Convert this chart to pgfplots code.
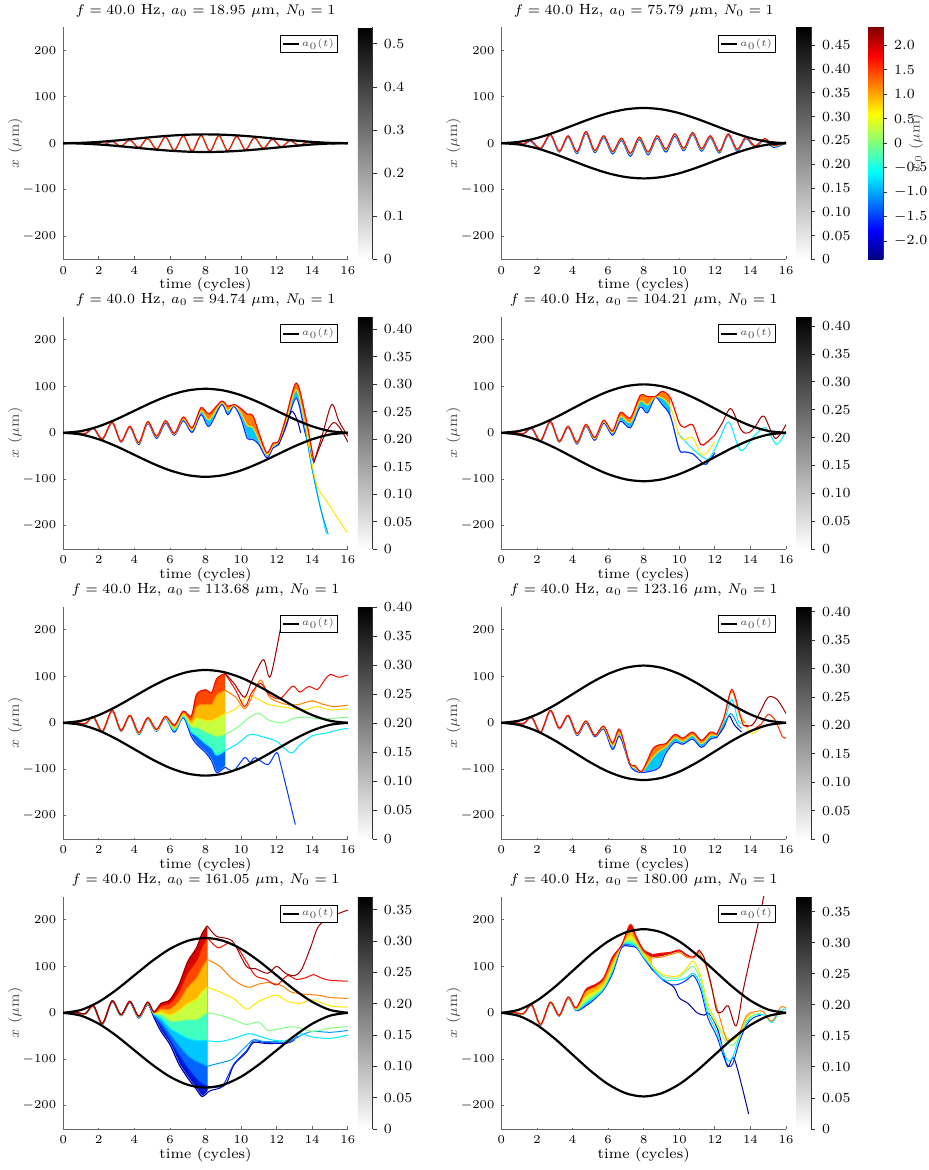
\documentclass[border=0pt]{standalone}
\usepackage{pgfplots}
\usepackage{pgfplotstable}
\pgfplotsset{compat=1.18}
\definecolor{c1}{rgb}{0,0,0.62}
\definecolor{c2}{rgb}{0,0.2,1}
\definecolor{c3}{rgb}{0,0.6,1}
\definecolor{c4}{rgb}{0,0.92,1}
\definecolor{c5}{rgb}{0.5,1,0.5}
\definecolor{c6}{rgb}{1,0.9,0}
\definecolor{c7}{rgb}{1,0.5,0}
\definecolor{c8}{rgb}{0.95,0.05,0}
\definecolor{c9}{rgb}{0.62,0,0}
\definecolor{f98}{rgb}{0.85,0.02,0}
\definecolor{f87}{rgb}{1,0.28,0}
\definecolor{f76}{rgb}{1,0.72,0}
\definecolor{f65}{rgb}{0.78,1,0.25}
\definecolor{f54}{rgb}{0.25,1,0.75}
\definecolor{f43}{rgb}{0,0.78,1}
\definecolor{f32}{rgb}{0,0.4,1}
\definecolor{f21}{rgb}{0,0.1,0.85}
\pgfplotsset{
  T/.style={forget plot, smooth, line width=0.5pt},
  B/.style={forget plot, smooth, line width=0.6pt},
  E/.style={forget plot, smooth, black, line width=1.1pt},
  FL/.style={forget plot, draw=none, fill=#1, smooth, restrict x to domain=0.5:16},
  FW/.style={forget plot, draw=white, line width=0.8pt, fill=white, smooth, restrict x to domain=0.5:16},
  cbar/.style={scale only axis, width=7.5pt, height=116.2pt,
      at={(parent axis.north east)}, anchor=north west,
      axis line style={draw=none}, ytick pos=right, yticklabel pos=right,
      tick align=outside, major tick length=2pt, tick style={black!80, line width=0.4pt},
      yticklabel style={font=\fontsize{7}{8}\selectfont},
      extra description/.code={\draw[black!80, line width=0.45pt] (rel axis cs:1,0) -- (rel axis cs:1,1);}},
  panel/.style={
    scale only axis, width=142.3pt, height=116.2pt, anchor=north west,
    xmin=0, xmax=16, ymin=-250, ymax=250,
    axis x line*=bottom, axis y line*=left,
    xtick={0,2,...,16}, ytick={-200,-100,0,100,200},
    tick align=inside, major tick length=1.5pt,
    axis line style={black!60, line width=0.45pt},
    tick style={black!60, line width=0.4pt},
    tick label style={font=\fontsize{6.4}{7}\selectfont},
    xlabel={time (cycles)}, ylabel={$x$ ($\mu$m)},
    label style={font=\fontsize{7.2}{8}\selectfont},
    xlabel style={at={(axis description cs:0.5,0)}, anchor=center, yshift=-13pt},
    ylabel style={at={(axis description cs:0,0.5)}, anchor=center, yshift=24pt, text=black!70},
    title style={font=\fontsize{7.4}{8.5}\selectfont, yshift=-4.5pt},
    legend style={at={(0.965,0.966)}, anchor=north east, draw=black, line width=0.5pt, fill=white,
      font=\fontsize{4.5}{5}\selectfont, text=black!70, inner xsep=0.8pt, inner ysep=0.8pt,
      nodes={inner sep=0.9pt}},
    legend image code/.code={\draw[#1] (0pt,0pt) -- (8pt,0pt);},
  },
}
\newcommand\envelope[8]{%
  \addplot[E] coordinates {(0,0) (1,#1) (2,#2) (3,#3) (4,#4) (5,#5) (6,#6) (7,#7) (8,#8) (9,#7) (10,#6) (11,#5) (12,#4) (13,#3) (14,#2) (15,#1) (16,0)};
  \addplot[E] coordinates {(0,0) (1,-#1) (2,-#2) (3,-#3) (4,-#4) (5,-#5) (6,-#6) (7,-#7) (8,-#8) (9,-#7) (10,-#6) (11,-#5) (12,-#4) (13,-#3) (14,-#2) (15,-#1) (16,0)};
}
\newcommand\leg{\addlegendimage{black, line width=1.1pt}\addlegendentry{$a_0(t)$}}
\newcommand\graybar[5]{%
\begin{axis}[at={(#1,#2)}, anchor=north west, scale only axis, width=142.3pt, height=116.2pt,
  hide axis, xmin=0, xmax=1, ymin=0, ymax=1,
  colorbar, colormap={wb}{gray(0cm)=(1); gray(1cm)=(0)}, point meta min=0, point meta max=#3,
  colorbar style={cbar, xshift=-3.5pt, ytick={#4}, yticklabels={#5}}]
\addplot[draw=none, forget plot] coordinates {(0.5,0.5)};
\end{axis}}
% ---------------- data
\pgfplotstableread{
t hi mid lo
0 0.5 -0.2 -1
0.75 1 0.2 -0.5
1.25 -1.5 -2.2 -3
1.65 6 5 4
2.2 -11 -12 -13
2.75 19 18 17
3.25 -17 -18 -19
3.75 16 14.5 13
4.25 -18 -20 -22
4.75 25 23 21
5.25 -16 -18 -20
5.75 16 14 12
6.25 -18 -20.5 -23
6.75 11 8.5 6
7.25 -22 -25 -28
7.75 13 10.5 8
8.25 -19 -22 -25
8.75 16 13.5 11
9.25 -13 -16 -19
9.75 20 17.5 15
10.25 -11 -13.5 -16
10.75 23 21 19
11.25 -12 -14.5 -17
11.75 16 14 12
12.25 -17 -19 -21
12.75 20 18.5 17
13.25 -13 -15 -17
13.75 13 11.5 10
14.25 -6 -7.5 -9
14.8 10 8.5 7
15.3 -5 -7 -9
16 3 2 1
}\ptwo
\pgfplotstableread{
t hi mid lo
0 0 0 -0.5
0.75 0.5 0.3 0
1.25 -1.5 -2 -2.5
1.7 11 10 9
2.2 -13 -14 -15
2.75 23 22 21
3.25 -18 -19 -20
3.75 14 13 12
4.25 -21 -23 -25
4.75 24 22 20
5.25 -7 -9 -12
5.75 26 24 21
6.25 -1 -3 -5
6.75 34 30 26
7.25 11 6 1
7.75 54 47 39
8.2 41 28 14
8.9 68 65 61
9.25 57 48 39
9.6 61 59 57
10.0 52 42 30
10.35 40 15 -12
10.65 38 12 -14
11.0 0 -15 -25
11.45 -43 -48 -54
11.8 -22 -27 -32
12.1 -18 -21 -25
12.5 30 20 10
13.1 107 92 75
13.6 40 20 0
14.1 -63 -64 -66
}\pthree
\pgfplotstableread{
t hi mid lo
0 0 0 -0.5
0.75 0.5 0.3 0
1.25 -1.5 -2 -2.5
1.7 11 10 9
2.2 -17 -18 -19
2.75 25 24 23
3.25 -18 -19 -20
3.75 14 13 12
4.25 -20 -22 -24
4.75 18 16 14
5.25 -10 -13 -16
5.75 27 24 21
6.25 4 0 -5
6.7 44 35 25
7.25 32 22 11
7.8 80 68 55
8.2 78 60 43
8.65 78 77 76
9.05 89 75 60
9.5 75 55 36
10.0 21 -5 -36
10.3 12 -15 -41
10.75 17 -10 -45
11.2 -25 -45 -61
11.5 -22 -45 -68
12.0 -5 -20 -43
}\pfour
\pgfplotstableread{
t a b c d e f
0 0 -0.1 -0.2 -0.3 -0.4 -0.5
0.75 0.5 0.4 0.3 0.2 0.1 0
1.25 -1.5 -1.7 -1.9 -2.1 -2.3 -2.5
1.7 13 12.6 12.2 11.8 11.4 11
2.2 -18 -18.4 -18.8 -19.2 -19.6 -20
2.75 27 26.6 26.2 25.8 25.4 25
3.25 -16 -16.4 -16.8 -17.2 -17.6 -18
3.75 16 15.6 15.2 14.8 14.4 14
4.25 -21 -21.8 -22.6 -23.4 -24.2 -25
4.75 11 10.4 9.8 9.2 8.6 8
5.25 -14 -14.8 -15.6 -16.4 -17.2 -18
5.75 14 13.2 12.4 11.6 10.8 10
6.25 -5 -8 -11 -14 -17 -20
6.75 25 22 19 16 13 11
7.2 14 5 -3 -10 -20 -29
7.5 61 35 10 -10 -28 -46
8.0 71 40 5 -20 -45 -64
8.35 65 40 5 -25 -55 -82
8.63 95 60 10 -30 -70 -107
9.1 106 70 20 -25 -60 -95
}\pfive
\pgfplotstableread{
t hi mid lo
0 0 0 -0.5
0.75 0.5 0.3 0
1.25 -1.5 -2 -2.5
1.7 13 12 11
2.2 -20 -21 -22
2.75 27 26 25
3.25 -11 -12 -13
3.75 16 15 14
4.25 -23 -25 -27
4.75 4 2 0
5.25 -27 -28 -30
5.75 -7 -10 -13
6.25 -43 -50 -57
6.65 -14 -22 -29
7.2 -86 -87 -89
7.5 -92 -97 -103
7.9 -104 -105 -107
8.5 -57 -75 -103
8.9 -47 -60 -95
9.25 -45 -52 -65
9.75 -25 -32 -42
10.2 -33 -40 -46
10.75 -20 -27 -35
11.25 -38 -45 -53
11.75 -20 -27 -35
12.1 -25 -28 -32
}\psix
\pgfplotstableread{
t a b c d e f g h i
0 0 0 -0.1 -0.2 -0.2 -0.3 -0.4 -0.4 -0.5
0.75 0.5 0.4 0.4 0.3 0.2 0.2 0.1 0.1 0
1.25 -1.5 -1.6 -1.8 -1.9 -2 -2.1 -2.2 -2.4 -2.5
1.7 16 15.8 15.5 15.2 15 14.8 14.5 14.2 14
2.2 -23 -23.2 -23.5 -23.8 -24 -24.2 -24.5 -24.8 -25
2.75 26 25.8 25.5 25.2 25 24.8 24.5 24.2 24
3.25 -4 -4.2 -4.5 -4.8 -5 -5.2 -5.5 -5.8 -6
3.75 25 24.6 24.2 23.9 23.5 23.1 22.8 22.4 22
4.25 -7 -7.5 -8 -8.5 -9 -9.5 -10 -10.5 -11
4.75 23 22.5 22 21 20.5 20 19.5 19 18
5.1 2 1 0 -1 -2 -3 -5 -7 -10
5.5 20 15 8 2 -5 -12 -20 -28 -40
6.0 28 20 8 -5 -18 -33 -45 -58 -68
6.5 60 45 25 5 -18 -45 -70 -90 -110
7.0 110 85 55 20 -15 -55 -92 -118 -140
7.5 140 112 75 30 -15 -60 -105 -142 -165
7.8 170 140 97 45 -8 -60 -110 -152 -180
8.1 187 162 115 55 0 -60 -115 -158 -172
}\pseven
\pgfplotstableread{
t a b c d e f
0 0 -0.1 -0.2 -0.3 -0.4 -0.5
0.75 0.5 0.4 0.3 0.2 0.1 0
1.25 -1.5 -1.7 -1.9 -2.1 -2.3 -2.5
1.7 18 17.6 17.2 16.8 16.4 16
2.2 -25 -25.4 -25.8 -26.2 -26.6 -27
2.75 23 22.6 22.2 21.8 21.4 21
3.25 -5 -5.4 -5.8 -6.2 -6.6 -7
3.75 34 33.5 33 32.5 32 31
4.2 11 10 8 7 6 5
4.75 50 45 35 25 20 15
5.25 60 55 45 38 33 30
5.75 75 70 60 55 52 50
6.25 120 112 100 95 90 85
6.75 145 145 145 145 145 140
7.25 190 178 165 155 148 143
7.6 162 155 150 145 142 140
8.0 135 130 128 122 120 118
8.5 125 118 100 98 96 92
}\peight
\pgfplotstableread{
t a b
8.5 125 118
9.0 128 120
9.5 130 125
10.0 135 130
10.4 125 120
10.8 120 118
11.1 135 130
}\peightb
\begin{document}
\begin{tikzpicture}
\useasboundingbox (0,0) rectangle (464pt,-585pt);
%================ Panel 1
\begin{axis}[panel, at={(31.6pt,-13.5pt)},
  title={$f = 40.0$ Hz, $a_0 = 18.95$ $\mu$m, $N_0 = 1$}]
\leg
\addplot[T, c2] coordinates {(0,-0.3) (0.75,0) (1.25,-1.6) (1.75,1.0) (2.25,-4.5) (2.75,3.0) (3.25,-7.6) (3.75,6.2) (4.25,-10.9) (4.75,9.5) (5.25,-14.1) (5.75,12.4) (6.25,-16.6) (6.75,14.6) (7.25,-18.2) (7.75,15.5) (8.25,-18.5) (8.75,15.2) (9.25,-17.6) (9.75,13.6) (10.25,-15.4) (10.75,11.1) (11.25,-12.5) (11.75,7.9) (12.25,-9.2) (12.75,4.6) (13.25,-6.0) (13.75,1.6) (14.25,-3.0) (14.75,0) (15.25,-1.4) (15.75,-0.5) (16,-0.5)};
\addplot[T, c6] coordinates {(0,0) (0.75,0.2) (1.25,-1.3) (1.75,1.5) (2.25,-3.8) (2.75,3.8) (3.25,-6.8) (3.75,7.0) (4.25,-10.1) (4.75,10.3) (5.25,-13.3) (5.75,13.2) (6.25,-15.8) (6.75,15.4) (7.25,-17.4) (7.75,16.3) (8.25,-17.7) (8.75,16.0) (9.25,-16.8) (9.75,14.4) (10.25,-14.6) (10.75,11.9) (11.25,-11.7) (11.75,8.7) (12.25,-8.4) (12.75,5.4) (13.25,-5.2) (13.75,2.4) (14.25,-2.4) (14.75,0.5) (15.25,-0.9) (15.75,0) (16,-0.2)};
\addplot[T, c8] coordinates {(0,0) (0.75,0.4) (1.25,-1.0) (1.75,1.9) (2.25,-3.1) (2.75,4.5) (3.25,-6.1) (3.75,7.7) (4.25,-9.4) (4.75,11.0) (5.25,-12.6) (5.75,13.9) (6.25,-15.1) (6.75,16.1) (7.25,-16.7) (7.75,17.0) (8.25,-17.0) (8.75,16.7) (9.25,-16.1) (9.75,15.1) (10.25,-13.9) (10.75,12.6) (11.25,-11.0) (11.75,9.4) (12.25,-7.7) (12.75,6.1) (13.25,-4.5) (13.75,3.1) (14.25,-1.9) (14.75,1.0) (15.25,-0.4) (15.75,0.2) (16,0)};
\envelope{0.72}{2.77}{5.85}{9.48}{13.10}{16.18}{18.23}{18.95}
\end{axis}
\graybar{31.6pt}{-13.5pt}{0.539}{0,0.1,0.2,0.3,0.4,0.5}{0,0.1,0.2,0.3,0.4,0.5}
%================ Panel 2
\begin{axis}[panel, at={(250.7pt,-13.5pt)},
  title={$f = 40.0$ Hz, $a_0 = 75.79$ $\mu$m, $N_0 = 1$}]
\leg
\addplot[FL=f76, restrict x to domain=0.5:15.5] table[x=t,y=hi]{\ptwo} |- (axis cs:0.75,-246) -- cycle;
\addplot[FL=f43, restrict x to domain=0.5:15.5] table[x=t,y=mid]{\ptwo} |- (axis cs:0.75,-246) -- cycle;
\addplot[FW, restrict x to domain=0.5:15.5] table[x=t,y=lo]{\ptwo} |- (axis cs:0.75,-246) -- cycle;
\addplot[B, c2] table[x=t,y=lo]{\ptwo};
\addplot[T, c5] table[x=t,y=mid]{\ptwo};
\addplot[B, c8] table[x=t,y=hi]{\ptwo};
\envelope{2.89}{11.10}{23.40}{37.90}{52.39}{64.69}{72.90}{75.79}
\end{axis}
\graybar{250.7pt}{-13.5pt}{0.488}{0,0.05,0.1,0.15,0.2,0.25,0.3,0.35,0.4,0.45}{0,0.05,0.10,0.15,0.20,0.25,0.30,0.35,0.40,0.45}
% jet colorbar
\begin{axis}[at={(250.7pt,-13.5pt)}, anchor=north west, scale only axis, width=142.3pt, height=116.2pt,
  hide axis, xmin=0, xmax=1, ymin=0, ymax=1,
  colorbar, colormap/jet, point meta min=-2.375, point meta max=2.375,
  colorbar style={cbar, xshift=32.5pt,
     ytick={-2,-1.5,-1,-0.5,0,0.5,1,1.5,2},
     yticklabels={$-2.0$,$-1.5$,$-1.0$,$-0.5$,$0$,$0.5$,$1.0$,$1.5$,$2.0$},
     ylabel={$x_0$ ($\mu$m)},
     ylabel style={at={(axis description cs:1,0.5)}, anchor=center, yshift=-16.5pt, font=\fontsize{7}{8}\selectfont, text=black!70}}]
\addplot[draw=none, forget plot] coordinates {(0.5,0.5)};
\end{axis}
%================ Panel 3
\begin{axis}[panel, at={(31.6pt,-158.3pt)},
  title={$f = 40.0$ Hz, $a_0 = 94.74$ $\mu$m, $N_0 = 1$}]
\leg
\addplot[FL=c7] table[x=t,y=hi]{\pthree} |- (axis cs:0.75,-246) -- cycle;
\addplot[FL=f43] table[x=t,y=mid]{\pthree} |- (axis cs:0.75,-246) -- cycle;
\addplot[FW] table[x=t,y=lo]{\pthree} |- (axis cs:0.75,-246) -- cycle;
\addplot[B, c2] table[x=t,y=lo]{\pthree};
\addplot[T, c1] coordinates {(12.1,-27) (12.5,15) (12.85,46) (13.15,28) (13.35,0)};
\addplot[T, c4] coordinates {(13.6,15) (14.0,-75) (14.4,-150) (14.8,-218)};
\addplot[T, c3] coordinates {(13.6,10) (14.0,-80) (14.45,-160) (14.9,-218)};
\addplot[T, c6] table[x=t,y=mid]{\pthree};
\addplot[T, c6] coordinates {(13.6,20) (14.05,-80) (14.35,-121) (14.9,-152) (15.95,-214)};
\addplot[B, c8] table[x=t,y=hi]{\pthree};
\addplot[T, c9] coordinates {(14.1,-63) (14.6,0) (15.1,61) (15.5,25) (16,-7)};
\addplot[T, c9] coordinates {(14.1,-63) (14.7,-5) (15.2,22) (15.6,8) (16,-20)};
\envelope{3.61}{13.87}{29.25}{47.37}{65.49}{80.87}{91.13}{94.74}
\end{axis}
\graybar{31.6pt}{-158.3pt}{0.423}{0,0.05,0.1,0.15,0.2,0.25,0.3,0.35,0.4}{0,0.05,0.10,0.15,0.20,0.25,0.30,0.35,0.40}
%================ Panel 4
\begin{axis}[panel, at={(250.7pt,-158.3pt)},
  title={$f = 40.0$ Hz, $a_0 = 104.21$ $\mu$m, $N_0 = 1$}]
\leg
\addplot[FL=c7, restrict x to domain=0.5:9.5] table[x=t,y=hi]{\pfour} |- (axis cs:0.75,-246) -- cycle;
\addplot[FL=f43, restrict x to domain=0.5:9.5] table[x=t,y=mid]{\pfour} |- (axis cs:0.75,-246) -- cycle;
\addplot[FW, restrict x to domain=0.5:9.5] table[x=t,y=lo]{\pfour} |- (axis cs:0.75,-246) -- cycle;
\addplot[B, c2] table[x=t,y=lo]{\pfour};
\addplot[T, c4] coordinates {(9.9,0) (10.5,-25) (11.0,-43) (11.6,-57) (12.0,-35) (12.3,-10) (12.8,23) (13.45,-38) (14.2,-7) (14.85,11) (15.47,-25) (16,4)};
\addplot[T, c6] table[x=t,y=mid]{\pfour};
\addplot[B, c8] table[x=t,y=hi]{\pfour};
\addplot[T, c9] coordinates {(12.0,-5) (12.4,20) (12.9,52) (13.5,5) (13.9,0) (14.3,15) (14.75,36) (15.4,-12) (16,18)};
\envelope{3.97}{15.26}{32.17}{52.11}{72.04}{88.95}{100.24}{104.21}
\end{axis}
\graybar{250.7pt}{-158.3pt}{0.417}{0,0.05,0.1,0.15,0.2,0.25,0.3,0.35,0.4}{0,0.05,0.10,0.15,0.20,0.25,0.30,0.35,0.40}
%================ Panel 5
\begin{axis}[panel, at={(31.6pt,-303.3pt)},
  title={$f = 40.0$ Hz, $a_0 = 113.68$ $\mu$m, $N_0 = 1$}]
\leg
\addplot[FL=f87] table[x=t,y=a]{\pfive} |- (axis cs:0.75,-246) -- cycle;
\addplot[FL=f76] table[x=t,y=b]{\pfive} |- (axis cs:0.75,-246) -- cycle;
\addplot[FL=f65] table[x=t,y=c]{\pfive} |- (axis cs:0.75,-246) -- cycle;
\addplot[FL=f54] table[x=t,y=d]{\pfive} |- (axis cs:0.75,-246) -- cycle;
\addplot[FL=f32] table[x=t,y=e]{\pfive} |- (axis cs:0.75,-246) -- cycle;
\addplot[FW] table[x=t,y=f]{\pfive} |- (axis cs:0.75,-246) -- cycle;
\addplot[B, c2] table[x=t,y=f]{\pfive};
\addplot[T, c2] coordinates {(9.1,-95) (9.57,-103) (10.2,-75) (10.5,-85) (10.8,-75) (11.5,-90) (12.0,-64) (12.25,-93) (13.05,-219)};
\addplot[T, c4] table[x=t,y=e]{\pfive};
\addplot[T, c4] coordinates {(9.1,-60) (9.8,-45) (10.5,-25) (11.2,-30) (12,-40) (12.8,-65) (13.3,-48) (14,-28) (14.8,-22) (15.5,-15) (16,-12)};
\addplot[T, c5] table[x=t,y=d]{\pfive};
\addplot[T, c5] coordinates {(9.1,-25) (9.8,-10) (10.4,10) (11,20) (11.6,5) (12.3,0) (13,10) (13.7,12) (14.5,8) (15.3,10) (16,12)};
\addplot[T, c6] table[x=t,y=c]{\pfive};
\addplot[T, c6] coordinates {(9.1,20) (9.7,30) (10.4,57) (11.0,50) (11.5,40) (12.2,35) (13,30) (13.6,28) (14.3,35) (15,28) (16,30)};
\addplot[T, c7] table[x=t,y=b]{\pfive};
\addplot[T, c7] coordinates {(9.1,70) (9.7,55) (10.2,30) (10.6,55) (11.1,92) (11.6,55) (12.3,42) (12.8,38) (13.3,40) (14,47) (14.6,40) (15.2,35) (16,38)};
\addplot[B, c8] table[x=t,y=a]{\pfive};
\addplot[T, c8] coordinates {(9.1,106) (9.7,70) (10.2,35) (10.6,65) (11.1,85) (11.6,60) (12.2,52) (12.9,79) (13.3,66) (13.8,78) (14.3,72) (14.7,92) (15.0,104) (15.5,98) (16,103)};
\addplot[T, c9] coordinates {(9.1,106) (9.6,85) (10.2,55) (10.6,90) (11.25,136) (11.65,100) (12.3,221)};
\envelope{4.33}{16.64}{35.09}{56.84}{78.59}{97.04}{109.35}{113.68}
\end{axis}
\graybar{31.6pt}{-303.3pt}{0.401}{0,0.05,0.1,0.15,0.2,0.25,0.3,0.35,0.4}{0,0.05,0.10,0.15,0.20,0.25,0.30,0.35,0.40}
%================ Panel 6
\begin{axis}[panel, at={(250.7pt,-303.3pt)},
  title={$f = 40.0$ Hz, $a_0 = 123.16$ $\mu$m, $N_0 = 1$}]
\leg
\addplot[FL=c7] table[x=t,y=hi]{\psix} |- (axis cs:0.75,-246) -- cycle;
\addplot[FL=f43] table[x=t,y=mid]{\psix} |- (axis cs:0.75,-246) -- cycle;
\addplot[FW] table[x=t,y=lo]{\psix} |- (axis cs:0.75,-246) -- cycle;
\addplot[B, c2] table[x=t,y=lo]{\psix};
\addplot[T, c1] coordinates {(12.1,-32) (12.5,-10) (12.8,15) (13.1,-5) (13.5,-20)};
\addplot[T, c3] coordinates {(12.1,-30) (12.5,-5) (12.9,20) (13.3,-5) (13.5,-12)};
\addplot[T, c4] coordinates {(12.1,-28) (12.5,0) (12.95,50) (13.3,5) (13.5,-2)};
\addplot[T, c6] table[x=t,y=mid]{\psix};
\addplot[T, c6] coordinates {(13.4,15) (13.7,0) (14.0,-22) (14.3,-20) (14.6,-5)};
\addplot[T, c7] coordinates {(12.1,-26) (12.5,8) (12.95,68) (13.4,15) (13.7,0)};
\addplot[B, c8] table[x=t,y=hi]{\psix};
\addplot[T, c8] coordinates {(12.1,-25) (12.5,10) (12.95,72) (13.4,20) (13.6,-5) (13.9,-8)};
\addplot[T, c8!70!c7] coordinates {(14.3,-10) (14.6,-3) (15.0,18) (15.4,5) (15.8,-30) (16,-32)};
\addplot[T, c9] coordinates {(13.6,-5) (14.1,-5) (14.5,20) (15.0,55) (15.5,50) (16,20)};
\envelope{4.69}{18.03}{38.02}{61.58}{85.14}{105.13}{118.47}{123.16}
\end{axis}
\graybar{250.7pt}{-303.3pt}{0.409}{0,0.05,0.1,0.15,0.2,0.25,0.3,0.35,0.4}{0,0.05,0.10,0.15,0.20,0.25,0.30,0.35,0.40}
%================ Panel 7
\begin{axis}[panel, at={(31.6pt,-448.3pt)},
  title={$f = 40.0$ Hz, $a_0 = 161.05$ $\mu$m, $N_0 = 1$}]
\leg
\addplot[FL=f98] table[x=t,y=a]{\pseven} |- (axis cs:0.75,-246) -- cycle;
\addplot[FL=f87] table[x=t,y=b]{\pseven} |- (axis cs:0.75,-246) -- cycle;
\addplot[FL=f76] table[x=t,y=c]{\pseven} |- (axis cs:0.75,-246) -- cycle;
\addplot[FL=f65] table[x=t,y=d]{\pseven} |- (axis cs:0.75,-246) -- cycle;
\addplot[FL=f54] table[x=t,y=e]{\pseven} |- (axis cs:0.75,-246) -- cycle;
\addplot[FL=f43] table[x=t,y=f]{\pseven} |- (axis cs:0.75,-246) -- cycle;
\addplot[FL=f32] table[x=t,y=g]{\pseven} |- (axis cs:0.75,-246) -- cycle;
\addplot[FL=f21] table[x=t,y=h]{\pseven} |- (axis cs:0.75,-246) -- cycle;
\addplot[FW] table[x=t,y=i]{\pseven} |- (axis cs:0.75,-246) -- cycle;
\addplot[B, c1] table[x=t,y=i]{\pseven};
\addplot[T, c1] coordinates {(8.1,-172) (8.3,-167) (8.8,-162) (9.2,-150) (9.6,-112) (10.3,-85) (10.7,-64) (11.4,-66) (12.6,-65) (13,-58)};
\addplot[T, c2] table[x=t,y=h]{\pseven};
\addplot[T, c2] coordinates {(8.1,-158) (8.5,-160) (9.0,-155) (9.6,-110) (10.3,-82) (10.7,-61) (11.4,-64) (12.6,-64) (13.2,-50)};
\addplot[T, c3] table[x=t,y=g]{\pseven};
\addplot[T, c3] coordinates {(8.1,-115) (8.8,-108) (9.5,-100) (10.2,-75) (10.7,-58) (11.3,-62) (12,-62) (12.7,-63) (13.3,-50) (14,-40) (15,-42) (16,-38)};
\addplot[T, c4] table[x=t,y=f]{\pseven};
\addplot[T, c4] coordinates {(8.1,-60) (8.8,-62) (9.6,-55) (10.4,-45) (11,-50) (11.7,-58) (12.5,-60) (13.3,-45) (14,-52) (15,-55) (16,-48)};
\addplot[T, c5] table[x=t,y=e]{\pseven};
\addplot[T, c5] coordinates {(8.1,0) (8.8,-5) (9.6,-15) (10.3,-25) (11,-20) (11.5,-38) (12,-35) (13,-30) (14,-40) (15,-33) (16,-30)};
\addplot[T, c6] table[x=t,y=d]{\pseven};
\addplot[T, c6] coordinates {(8.1,55) (8.8,45) (9.6,30) (10.3,8) (10.8,20) (11.3,30) (12.0,38) (12.6,25) (13.3,20) (14,28) (15,15) (16,12)};
\addplot[T, c7] table[x=t,y=c]{\pseven};
\addplot[T, c7] coordinates {(8.1,115) (8.8,100) (9.6,70) (10.4,55) (11.0,62) (11.6,65) (12.3,58) (12.8,45) (13.5,40) (14.3,38) (15,33) (16,31)};
\addplot[T, c8] table[x=t,y=b]{\pseven};
\addplot[T, c8] coordinates {(8.1,162) (8.7,140) (9.3,150) (9.8,140) (10.3,110) (10.8,80) (11.4,72) (12.0,60) (12.6,80) (13.1,72) (13.6,75) (14.07,82) (14.5,75) (15,70) (16,68)};
\addplot[B, c9] table[x=t,y=a]{\pseven};
\addplot[T, c9] coordinates {(8.1,187) (8.6,165) (9.2,160) (9.6,150) (10.3,100) (10.8,95) (11.5,85) (12.0,100) (12.5,85) (13.0,80) (13.4,93) (13.9,140) (14.35,186) (15.0,205) (15.5,214) (16,221)};
\envelope{6.14}{23.58}{49.72}{80.53}{111.33}{137.47}{154.91}{161.05}
\end{axis}
\graybar{31.6pt}{-448.3pt}{0.371}{0,0.05,0.1,0.15,0.2,0.25,0.3,0.35}{0,0.05,0.10,0.15,0.20,0.25,0.30,0.35}
%================ Panel 8
\begin{axis}[panel, at={(250.7pt,-448.3pt)},
  title={$f = 40.0$ Hz, $a_0 = 180.00$ $\mu$m, $N_0 = 1$}]
\leg
\addplot[FL=f98] table[x=t,y=a]{\peight} |- (axis cs:0.75,-246) -- cycle;
\addplot[FL=f76] table[x=t,y=b]{\peight} |- (axis cs:0.75,-246) -- cycle;
\addplot[FL=f65] table[x=t,y=c]{\peight} |- (axis cs:0.75,-246) -- cycle;
\addplot[FL=f54] table[x=t,y=d]{\peight} |- (axis cs:0.75,-246) -- cycle;
\addplot[FL=f32] table[x=t,y=e]{\peight} |- (axis cs:0.75,-246) -- cycle;
\addplot[FW] table[x=t,y=f]{\peight} |- (axis cs:0.75,-246) -- cycle;
\addplot[FL=f98] table[x=t,y=a]{\peightb} |- (axis cs:8.5,-246) -- cycle;
\addplot[FW] table[x=t,y=b]{\peightb} |- (axis cs:8.5,-246) -- cycle;
\addplot[T, c1] coordinates {(9.1,70) (9.7,55) (10.0,32) (10.5,20) (11.0,0) (11.4,-5) (11.7,-2) (12.2,-40) (12.7,-115) (13.1,-100) (13.9,-218)};
\addplot[B, c2] table[x=t,y=f]{\peight};
\addplot[T, c2] coordinates {(8.5,92) (9.1,70) (9.6,60) (10.0,62) (10.4,70) (10.8,80) (11.2,50) (11.6,-10) (12.1,-50) (12.5,-95) (12.75,-114) (13.0,-110) (13.4,-60) (13.8,-25) (14.2,-10) (14.6,-5)};
\addplot[T, c4] table[x=t,y=e]{\peight};
\addplot[T, c4] coordinates {(8.5,96) (9.1,72) (9.9,70) (10.4,75) (10.8,85) (11.2,60) (11.6,0) (12.1,-40) (12.5,-85) (12.75,-104) (13.0,-95) (13.4,-50) (13.8,-20) (14.2,-5) (14.8,-5) (15.2,-21) (15.7,5) (16,8)};
\addplot[T, c5] table[x=t,y=d]{\peight};
\addplot[T, c5] coordinates {(8.5,98) (9.1,78) (9.9,75) (10.4,90) (10.8,100) (11.2,70) (11.6,10) (12.1,-25) (12.5,-55) (12.7,-65) (13.0,-70) (13.4,-50) (13.8,-15) (14.2,-5) (14.6,0)};
\addplot[T, c6] table[x=t,y=c]{\peight};
\addplot[T, c6] coordinates {(8.5,100) (9.1,82) (9.9,79) (10.4,95) (10.8,111) (11.2,80) (11.6,20) (12.1,-21) (12.5,-45) (12.7,-54) (13.0,-60) (13.4,-45) (13.8,-10) (14.2,0)};
\addplot[T, c7] table[x=t,y=b]{\peight};
\addplot[T, c7] table[x=t,y=b]{\peightb};
\addplot[T, c7] coordinates {(11.1,130) (11.5,100) (11.9,40) (12.2,0) (12.5,-40) (12.7,-60) (13.0,-55) (13.4,-40) (13.8,-5) (14.2,2) (14.7,3) (15.2,-18) (15.7,12) (16,10)};
\addplot[B, c8] table[x=t,y=a]{\peight};
\addplot[B, c8] table[x=t,y=a]{\peightb};
\addplot[T, c9] coordinates {(11.1,135) (11.4,118) (11.8,60) (12.1,5) (12.4,2) (12.75,15) (13.2,-28) (13.6,50) (14.0,120) (14.4,186) (14.8,260)};
\envelope{6.86}{26.35}{55.57}{90}{124.43}{153.65}{173.14}{180}
\end{axis}
\graybar{250.7pt}{-448.3pt}{0.374}{0,0.05,0.1,0.15,0.2,0.25,0.3,0.35}{0,0.05,0.10,0.15,0.20,0.25,0.30,0.35}
\end{tikzpicture}
\end{document}
